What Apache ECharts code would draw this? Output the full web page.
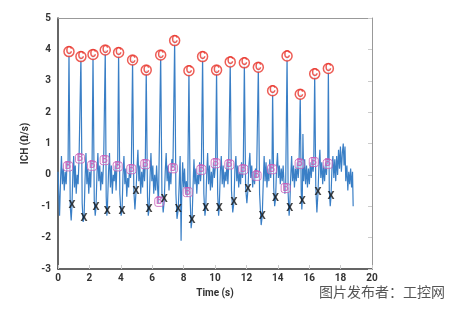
<!DOCTYPE html>
<html>
<head>
<meta charset="utf-8">
<script src="https://cdn.jsdelivr.net/npm/echarts@6/dist/echarts.min.js"></script>
<style>
  html, body { margin: 0; padding: 0; background: #fff; }
  #chart { width: 451px; height: 309px; }
</style>
</head>
<body>
<div id="chart"></div>
<script>
// ICH 信号 [时间 s, Ω/s]
var signal = [
  [0.00, 0.1], [0.05, -0.6], [0.10, -1.3], [0.16, -0.2], [0.22, 0.6], [0.28, -0.3], [0.34, 0.2], [0.40, -0.5], [0.46, 0.1], [0.52, -0.3], [0.58, 0.4],
  [0.64, 0.27], [0.70, 3.93], [0.78, -1.0], [0.84, -1.45], [0.89, -0.98], [0.95, 0.1], [1.00, 0.6], [1.05, -0.4], [1.10, 0.3], [1.16, -0.6], [1.22, 0.0], [1.28, -0.3], [1.34, 0.5],
  [1.40, 0.52], [1.46, 3.77], [1.54, -0.9], [1.60, -1.5], [1.66, -1.38], [1.72, -0.2], [1.78, 0.7], [1.84, -0.3], [1.90, 0.2], [1.96, -0.6], [2.02, 0.1], [2.08, -0.4], [2.13, 0.4],
  [2.17, 0.29], [2.23, 3.84], [2.31, -0.8], [2.37, -1.3], [2.42, -1.03], [2.48, 0.0], [2.54, 0.7], [2.60, -0.2], [2.66, 0.3], [2.72, -0.5], [2.78, 0.1], [2.84, -0.3], [2.91, 0.5],
  [2.97, 0.47], [3.01, 3.98], [3.07, -0.7], [3.11, -1.3], [3.14, -1.17], [3.22, 0.1], [3.28, 0.7], [3.34, -0.4], [3.40, 0.3], [3.46, -0.6], [3.52, 0.0], [3.58, -0.2], [3.64, 0.3], [3.70, -0.5], [3.76, 0.4],
  [3.80, 0.27], [3.86, 3.90], [3.94, -0.6], [4.02, -1.3], [4.08, -1.16], [4.14, 0.0], [4.20, 0.6], [4.26, -0.3], [4.32, 0.2], [4.38, -0.7], [4.44, -0.1], [4.50, -0.4], [4.56, 0.3], [4.62, -0.1],
  [4.67, 0.18], [4.75, 3.66], [4.83, -0.5], [4.90, -1.1], [4.97, -0.53], [5.03, 0.2], [5.09, 0.8], [5.15, -0.2], [5.21, 0.3], [5.27, -0.6], [5.33, 0.1], [5.39, -0.4], [5.45, 0.4], [5.51, -0.2],
  [5.56, 0.34], [5.62, 3.34], [5.70, -0.7], [5.75, -1.3], [5.80, -1.11], [5.86, -0.1], [5.92, 0.7], [5.98, -0.2], [6.04, 0.3], [6.10, -0.6], [6.16, 0.0], [6.22, -0.5], [6.28, 0.3], [6.34, -0.4], [6.40, -0.9],
  [6.45, -0.86], [6.54, 3.82], [6.62, -0.6], [6.70, -1.2], [6.77, -0.79], [6.83, 0.1], [6.89, 0.7], [6.95, -0.2], [7.01, 0.3], [7.07, -0.5], [7.13, 0.1], [7.19, -0.3], [7.25, 0.5],
  [7.32, 0.21], [7.43, 4.28], [7.51, -0.6], [7.58, -1.4], [7.66, -1.09], [7.72, -0.3], [7.78, 0.6], [7.84, -2.1], [7.88, -0.6], [7.94, 0.4], [8.00, -0.4], [8.06, 0.2], [8.12, -0.6], [8.18, -0.2], [8.22, -0.7],
  [8.26, -0.55], [8.34, 3.32], [8.42, -0.8], [8.48, -1.7], [8.54, -1.44], [8.60, -0.4], [8.66, 0.5], [8.72, -0.3], [8.78, 0.2], [8.84, -0.6], [8.90, 0.0], [8.96, -0.3], [9.02, 0.4], [9.08, -0.2],
  [9.13, 0.16], [9.21, 3.77], [9.29, -0.6], [9.36, -1.3], [9.41, -1.05], [9.47, 0.0], [9.53, 0.7], [9.59, -0.3], [9.65, 0.3], [9.71, -0.5], [9.77, 0.1], [9.83, -0.4], [9.90, 0.4], [9.96, -0.1],
  [10.04, 0.37], [10.10, 3.34], [10.17, -0.6], [10.23, -1.3], [10.27, -1.05], [10.34, 0.1], [10.40, 0.6], [10.46, -0.3], [10.52, 0.3], [10.58, -0.4], [10.64, 0.1], [10.70, -0.2], [10.76, 0.4], [10.82, -0.3], [10.87, 0.3],
  [10.91, 0.33], [10.97, 3.60], [11.05, -0.5], [11.13, -1.2], [11.21, -0.86], [11.27, 0.2], [11.33, 0.6], [11.39, -0.2], [11.45, 0.3], [11.51, -0.4], [11.57, 0.1], [11.63, -0.3], [11.69, 0.4], [11.75, -0.1],
  [11.80, 0.17], [11.87, 3.57], [11.95, -0.4], [12.03, -0.9], [12.10, -0.46], [12.16, 0.3], [12.22, 0.7], [12.28, -0.1], [12.34, 0.3], [12.40, -0.4], [12.46, 0.1], [12.52, -0.3], [12.58, 0.2], [12.62, -0.1],
  [12.65, -0.03], [12.76, 3.43], [12.84, -0.6], [12.94, -1.6], [13.01, -1.31], [13.07, -0.3], [13.13, 0.6], [13.19, -0.2], [13.25, 0.4], [13.31, -0.4], [13.37, 0.2], [13.43, -0.2], [13.49, 0.5], [13.55, -0.1], [13.59, 0.3],
  [13.63, 0.18], [13.67, 2.68], [13.74, -0.4], [13.80, -1.0], [13.86, -0.75], [13.92, 0.2], [13.98, 0.7], [14.04, -0.1], [14.10, 0.3], [14.16, -0.3], [14.22, 0.2], [14.28, -0.2], [14.34, 0.3], [14.40, -0.3], [14.45, -0.6],
  [14.50, -0.42], [14.59, 3.79], [14.66, -0.6], [14.72, -1.3], [14.76, -1.06], [14.82, -0.1], [14.88, 0.6], [14.94, -0.2], [15.00, 0.3], [15.06, -0.4], [15.12, 0.2], [15.18, -0.2], [15.24, 0.4], [15.30, -0.1], [15.35, 0.3],
  [15.39, 0.35], [15.43, 2.57], [15.49, -0.5], [15.53, -1.1], [15.56, -0.83], [15.60, 1.3], [15.65, -0.2], [15.71, 0.5], [15.77, -0.3], [15.83, 0.3], [15.89, -0.4], [15.95, 0.2], [16.01, -0.3], [16.07, 0.4], [16.13, -0.1], [16.20, 0.5], [16.25, 0.1],
  [16.29, 0.41], [16.35, 3.22], [16.42, -0.4], [16.49, -1.2], [16.56, -0.56], [16.62, 0.3], [16.68, 0.8], [16.74, -0.1], [16.80, 0.4], [16.86, -0.3], [16.92, 0.3], [16.98, -0.2], [17.04, 0.4], [17.10, 0.0], [17.14, 0.5],
  [17.18, 0.35], [17.22, 3.39], [17.28, -0.5], [17.34, -1.0], [17.39, -0.68], [17.45, 0.2], [17.51, 0.6], [17.57, -0.1], [17.63, 0.5], [17.69, -0.2], [17.75, 0.6], [17.81, 0.0], [17.87, 0.8], [17.93, 0.2], [17.99, 0.9],
  [18.05, 0.1], [18.11, 0.7], [18.17, 1.0], [18.22, 0.3], [18.28, 0.9], [18.33, -0.2], [18.40, 0.3], [18.46, -0.5], [18.52, 0.1], [18.58, -0.3], [18.64, 0.2], [18.70, -0.4], [18.76, 0.1], [18.80, -1.0]
];

// C 点
var cPoints = [
  [0.70, 3.93], [1.46, 3.77], [2.23, 3.84], [3.01, 3.98], [3.86, 3.90], [4.75, 3.66], [5.62, 3.34], [6.54, 3.82], [7.43, 4.28], [8.34, 3.32],
  [9.21, 3.77], [10.10, 3.34], [10.97, 3.60], [11.87, 3.57], [12.76, 3.43], [13.67, 2.68], [14.59, 3.79], [15.43, 2.57], [16.35, 3.22], [17.22, 3.39]
];
// B 点
var bPoints = [
  [0.64, 0.27], [1.40, 0.52], [2.17, 0.29], [2.97, 0.47], [3.80, 0.27], [4.67, 0.18], [5.56, 0.34], [6.45, -0.86], [7.32, 0.21], [8.26, -0.55],
  [9.13, 0.16], [10.04, 0.37], [10.91, 0.33], [11.80, 0.17], [12.65, -0.03], [13.63, 0.18], [14.50, -0.42], [15.39, 0.35], [16.29, 0.41], [17.18, 0.35]
];
// X 点
var xPoints = [
  [0.89, -0.98], [1.66, -1.38], [2.42, -1.03], [3.14, -1.17], [4.08, -1.16], [4.97, -0.53], [5.80, -1.11], [6.77, -0.79], [7.66, -1.09], [8.54, -1.44],
  [9.41, -1.05], [10.27, -1.05], [11.21, -0.86], [12.10, -0.46], [13.01, -1.31], [13.86, -0.75], [14.76, -1.06], [15.56, -0.83], [16.56, -0.56], [17.39, -0.68]
];

var xTicks = [0, 20, 2];
var yTicks = [-3, 5, 1];

var labelFont = {color: '#333', fontSize: 10, fontWeight: 'bold', fontFamily: 'Roboto'};

var chart = echarts.init(document.getElementById('chart'));
var option = {
    backgroundColor: '#fff',
    animation: false,
    grid: {left: 58, right: 79, top: 18, bottom: 40},
    xAxis: [{
        type: 'value',
        position: 'bottom',
        min: xTicks[0], max: xTicks[1], interval: xTicks[2],
        name: 'Time (s)',
        nameLocation: 'middle',
        nameGap: 19,
        nameTextStyle: {color: '#333', fontSize: 10, fontWeight: 'bold', fontFamily: 'Roboto'},
        axisLine: {show: true, onZero: false, lineStyle: {color: '#333', width: 1.5}},
        axisTick: {show: true, inside: true, length: 4, lineStyle: {color: '#ccc'}},
        axisLabel: Object.assign({margin: 4}, labelFont),
        splitLine: {show: false}
    }, {
        type: 'value',
        position: 'top',
        min: xTicks[0], max: xTicks[1], interval: xTicks[2],
        axisLine: {show: true, onZero: false, lineStyle: {color: '#999', width: 1}},
        axisTick: {show: false},
        axisLabel: {show: false},
        splitLine: {show: false}
    }],
    yAxis: [{
        type: 'value',
        position: 'left',
        min: yTicks[0], max: yTicks[1], interval: yTicks[2],
        name: 'ICH (Ω/s)',
        nameLocation: 'middle',
        nameGap: 18,
        nameTextStyle: {color: '#333', fontSize: 10, fontWeight: 'bold', fontFamily: 'Roboto'},
        axisLine: {show: true, onZero: false, lineStyle: {color: '#333', width: 1.5}},
        axisTick: {show: false},
        axisLabel: Object.assign({margin: 7}, labelFont),
        splitLine: {show: false}
    }, {
        type: 'value',
        position: 'right',
        min: yTicks[0], max: yTicks[1], interval: yTicks[2],
        axisLine: {show: true, onZero: false, lineStyle: {color: '#999', width: 1}},
        axisTick: {show: true, inside: true, length: 4, lineStyle: {color: '#ccc'}},
        axisLabel: {show: false},
        splitLine: {show: false}
    }],
    series: [
        {
            type: 'line',
            data: signal,
            showSymbol: false,
            symbol: 'none',
            lineStyle: {color: '#3a7fc6', width: 1.2},
            z: 2
        },
        {
            type: 'scatter',
            data: bPoints,
            symbol: 'roundRect',
            symbolSize: 9,
            itemStyle: {color: 'rgba(255,255,255,0.5)', borderColor: '#c65bb6', borderWidth: 1},
            label: {show: true, position: 'inside', formatter: 'B', color: '#c65bb6', fontSize: 10, fontWeight: 'bold', fontFamily: 'Roboto'},
            z: 3
        },
        {
            type: 'scatter',
            data: xPoints,
            symbol: 'circle',
            symbolSize: 1,
            itemStyle: {color: 'rgba(0,0,0,0)'},
            label: {show: true, position: 'inside', formatter: 'X', color: '#111', fontSize: 11, fontWeight: 'bold', fontFamily: 'Roboto'},
            z: 3
        },
        {
            type: 'scatter',
            data: cPoints,
            symbol: 'circle',
            symbolSize: 10,
            itemStyle: {color: '#fff', borderColor: '#e8352c', borderWidth: 1.5},
            label: {show: true, position: 'inside', formatter: 'C', color: '#e8352c', fontSize: 10, fontWeight: 'bold', fontFamily: 'Roboto'},
            z: 4
        }
    ],
    graphic: [{
        type: 'text',
        right: 6,
        top: 285,
        style: {text: '图片发布者：工控网', fill: '#555', fontSize: 14, fontFamily: 'Noto Sans CJK SC'}
    }]
};
chart.setOption(option);
</script>
</body>
</html>
